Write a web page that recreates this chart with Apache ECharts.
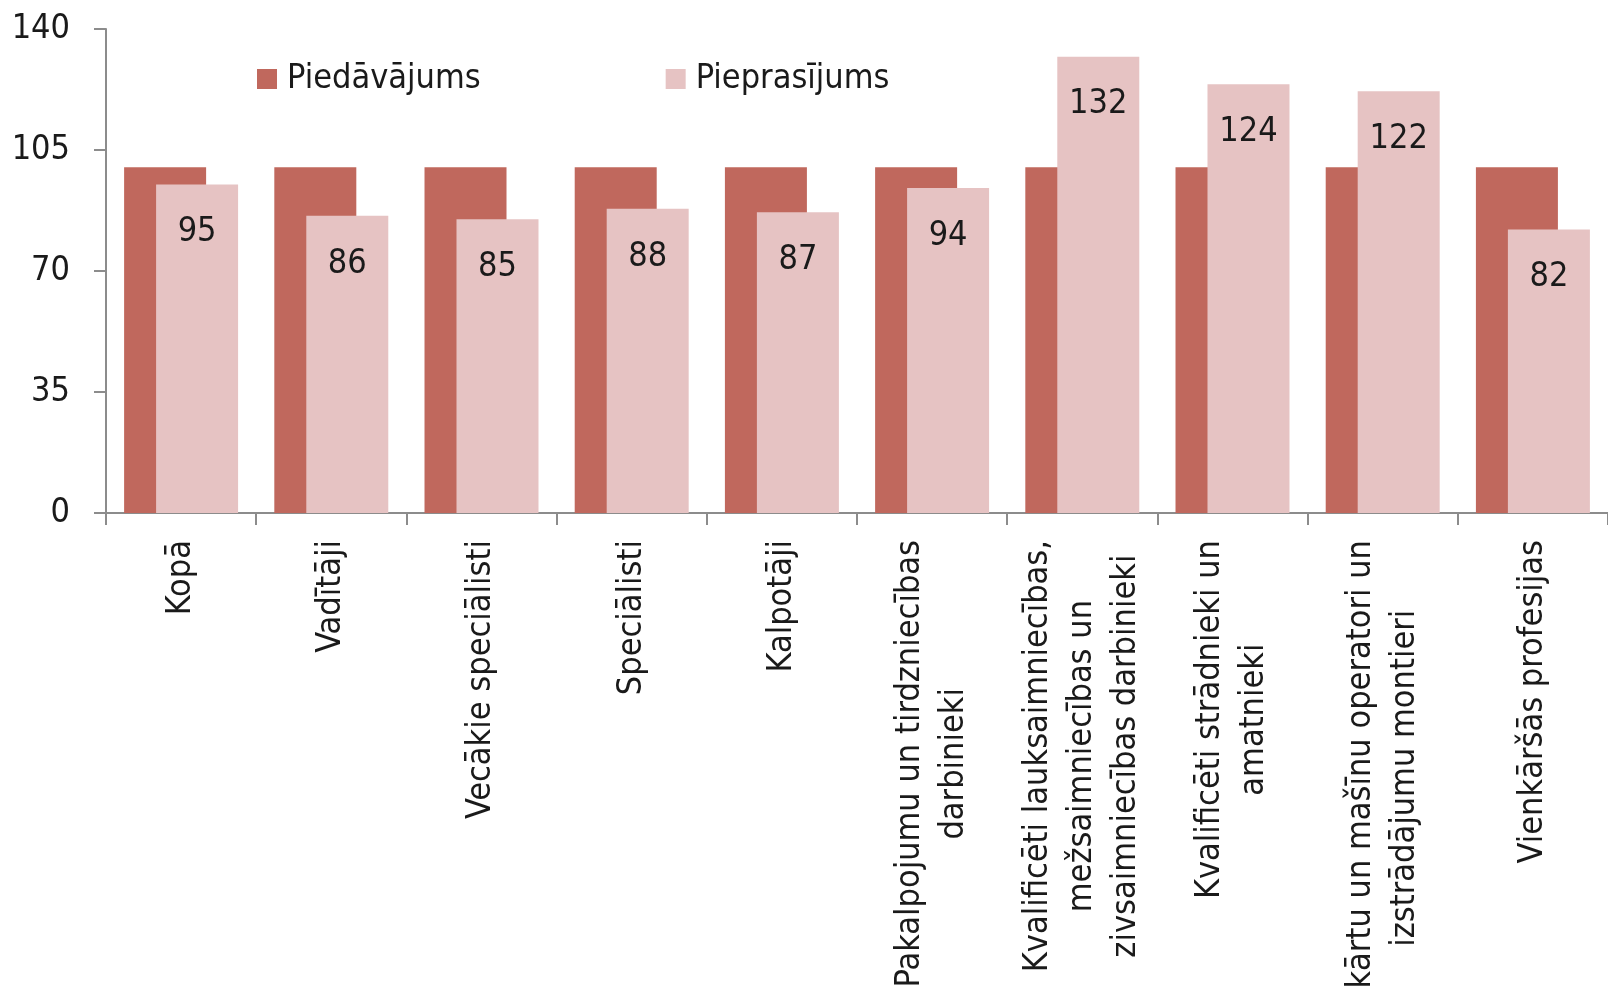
<!DOCTYPE html>
<html><head><meta charset="utf-8">
<script src="https://cdn.jsdelivr.net/npm/echarts@6/dist/echarts.min.js"></script>
<style>html,body{margin:0;padding:0;background:#fff}#c{width:1608px;height:988px}</style>
</head><body><div id="c"></div>
<script>
const categories = [
  'Kopā',
  'Vadītāji',
  'Vecākie speciālisti',
  'Speciālisti',
  'Kalpotāji',
  'Pakalpojumu un tirdzniecības\ndarbinieki',
  'Kvalificēti lauksaimniecības,\nmežsaimniecības un\nzivsaimniecības darbinieki',
  'Kvalificēti strādnieki un\namatnieki',
  'Iekārtu un mašīnu operatori un\nizstrādājumu montieri',
  'Vienkāršās profesijas'
];
const seriesNames = ['Piedāvājums', 'Pieprasījums'];
const supply = [100, 100, 100, 100, 100, 100, 100, 100, 100, 100];
const demand = [95, 86, 85, 88, 87, 94, 132, 124, 122, 82];
const yMin = 0, yMax = 140, yStep = 35;

const FONT = "'DejaVu Sans Condensed','Liberation Sans',sans-serif";
const AXIS = '#8c8c8c';
const TXT = '#1a1a1a';

const chart = echarts.init(document.getElementById('c'));
chart.setOption({
  animation: false,
  backgroundColor: '#fff',
  grid: { left: 106, right: 0, top: 29, bottom: 475, outerBoundsMode: 'none', containLabel: false },
  legend: {
    left: 257, top: 59, icon: 'rect', itemWidth: 20, itemHeight: 20, itemGap: 185,
    padding: 0,
    textStyle: { fontFamily: FONT, fontSize: 34, lineHeight: 40, color: TXT, padding: [0, 0, 0, 5] },
    data: seriesNames
  },
  xAxis: {
    type: 'category', data: categories, boundaryGap: true,
    axisLine: { lineStyle: { color: AXIS, width: 2 } },
    axisTick: { show: true, length: 12, lineStyle: { color: AXIS, width: 2 } },
    axisLabel: {
      interval: 0, rotate: 90, margin: 27,
      formatter: v => v.split('\n').map(l => '{c|' + l + '}').join('\n'),
      rich: { c: { fontFamily: FONT, fontSize: 34, lineHeight: 44, align: 'center', color: TXT } }
    }
  },
  yAxis: {
    type: 'value', min: yMin, max: yMax, interval: yStep,
    splitLine: { show: false },
    axisLine: { show: true, lineStyle: { color: AXIS, width: 2 } },
    axisTick: { show: true, length: 12, lineStyle: { color: AXIS, width: 2 } },
    axisLabel: { margin: 36, fontFamily: FONT, fontSize: 34, color: TXT }
  },
  series: [
    {
      name: seriesNames[0], type: 'bar', data: supply, barWidth: 82, barGap: '-61%',
      itemStyle: { color: '#c0685d' }
    },
    {
      name: seriesNames[1], type: 'bar', data: demand, barWidth: 82, barGap: '-61%',
      itemStyle: { color: '#e6c3c3' },
      label: { show: true, position: 'insideTop', distance: 31, fontFamily: FONT, fontSize: 34, lineHeight: 34, color: TXT }
    }
  ]
});
</script>
</body></html>
